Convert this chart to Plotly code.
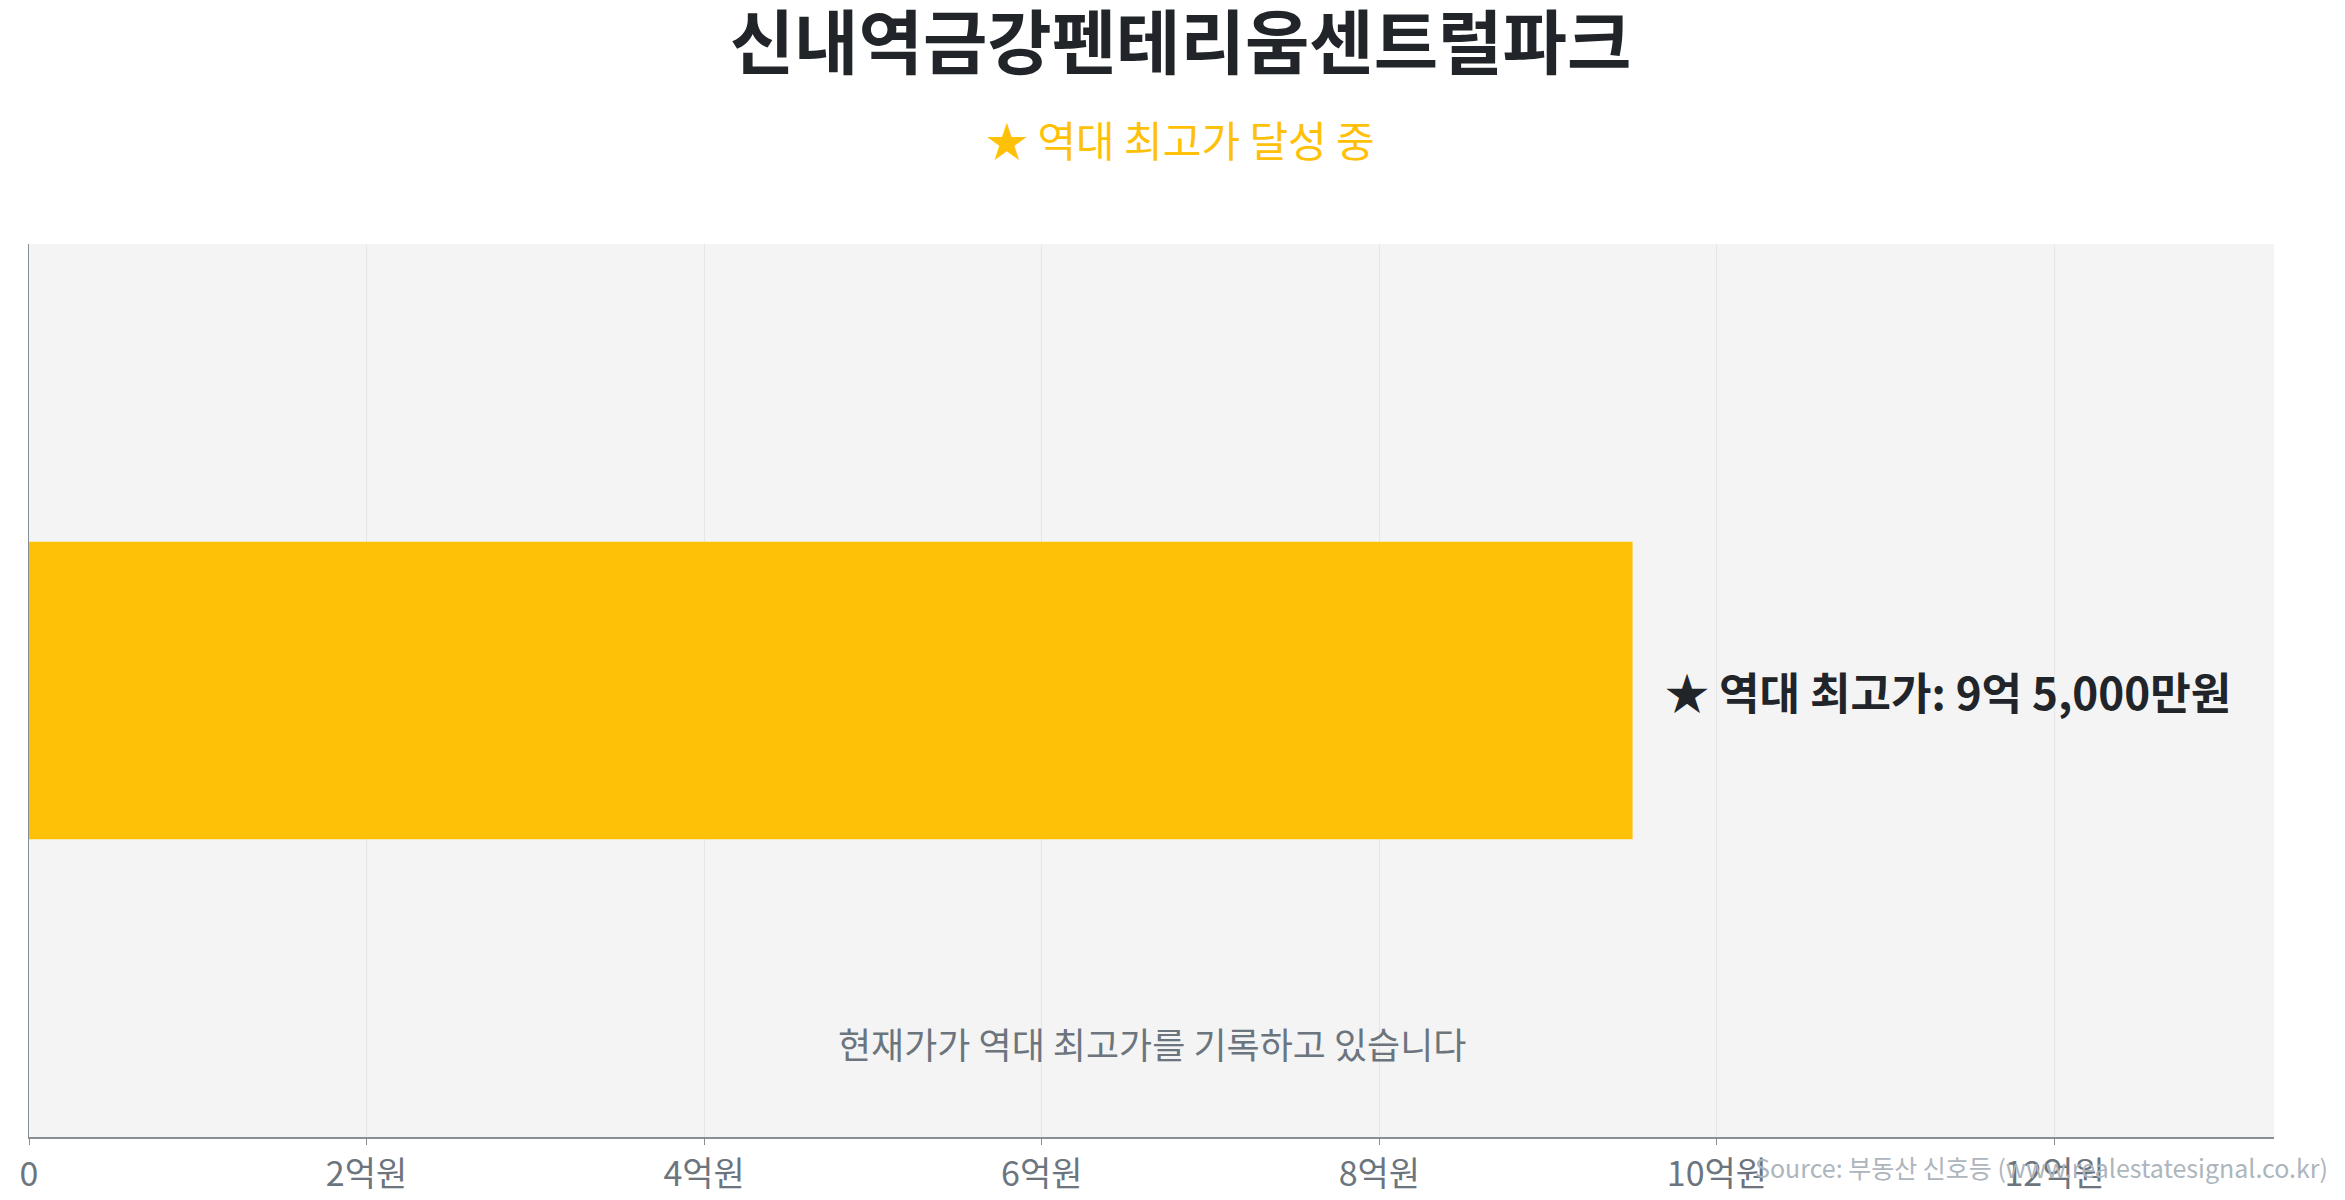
import plotly.graph_objects as go

# values in 억원
apt_names = ["신내역금강펜테리움센트럴파크"]
prices = [9.5]
price_label = "★ 역대 최고가: 9억 5,000만원"
subtitle = "★ 역대 최고가 달성 중"
status_note = "현재가가 역대 최고가를 기록하고 있습니다"
source_note = "Source: 부동산 신호등 (www.realestatesignal.co.kr)"
tick_vals = [0, 2, 4, 6, 8, 10, 12]
tick_labels = ["0", "2억원", "4억원", "6억원", "8억원", "10억원", "12억원"]

FONT = "Noto Sans CJK KR"
DARK = "#212529"
GRAY = "#6c757d"
AMBER = "#FFC107"

fig = go.Figure()
fig.add_trace(go.Bar(
    x=prices, y=apt_names, orientation='h',
    marker=dict(color=AMBER, line=dict(width=0)),
    width=0.5, hoverinfo='skip', showlegend=False
))

fig.add_annotation(
    x=prices[0], y=apt_names[0], xref='x', yref='y',
    text=f"<b>{price_label}</b>", showarrow=False,
    xanchor='left', yanchor='middle', xshift=30,
    font=dict(family=FONT, size=44, color=DARK)
)
# subtitle sits under the page-centred title, not the plot centre
fig.add_annotation(
    x=0.513, y=1.118, xref='paper', yref='paper',
    text=subtitle, showarrow=False, xanchor='center', yanchor='middle',
    font=dict(family=FONT, size=42, color=AMBER)
)
fig.add_annotation(
    x=0.5, y=0.105, xref='paper', yref='paper',
    text=status_note, showarrow=False, xanchor='center', yanchor='middle',
    font=dict(family=FONT, size=36, color=GRAY)
)
fig.add_annotation(
    x=1.025, y=-0.034, xref='paper', yref='paper',
    text=source_note, showarrow=False, xanchor='right', yanchor='middle',
    font=dict(family=FONT, size=25, color="#adb5bd")
)

fig.update_layout(
    width=2345, height=1200,
    margin=dict(l=14, r=79, t=236, b=71),
    paper_bgcolor='white', plot_bgcolor='#f4f4f4',
    title=dict(text="<b>신내역금강펜테리움센트럴파크</b>", x=0.5, xanchor='center',
               y=1 - 36 / 1200, yanchor='middle', yref='container',
               font=dict(family=FONT, size=70, color=DARK)),
    font=dict(family=FONT, color=GRAY),
)
fig.update_xaxes(
    range=[0, 13.3], tickvals=tick_vals, ticktext=tick_labels,
    showgrid=True, gridcolor='#e6e6e6', gridwidth=1, zeroline=False,
    showline=True, linecolor='#868e96', linewidth=2,
    ticks='outside', ticklen=6, tickcolor='#868e96', tickwidth=1,
    tickfont=dict(family=FONT, size=34, color=GRAY),
)
fig.update_yaxes(
    range=[-0.75, 0.75], showticklabels=False, showgrid=False, zeroline=False,
    showline=True, linecolor='#868e96', linewidth=1, ticks='',
)

fig.write_html("out.html")
